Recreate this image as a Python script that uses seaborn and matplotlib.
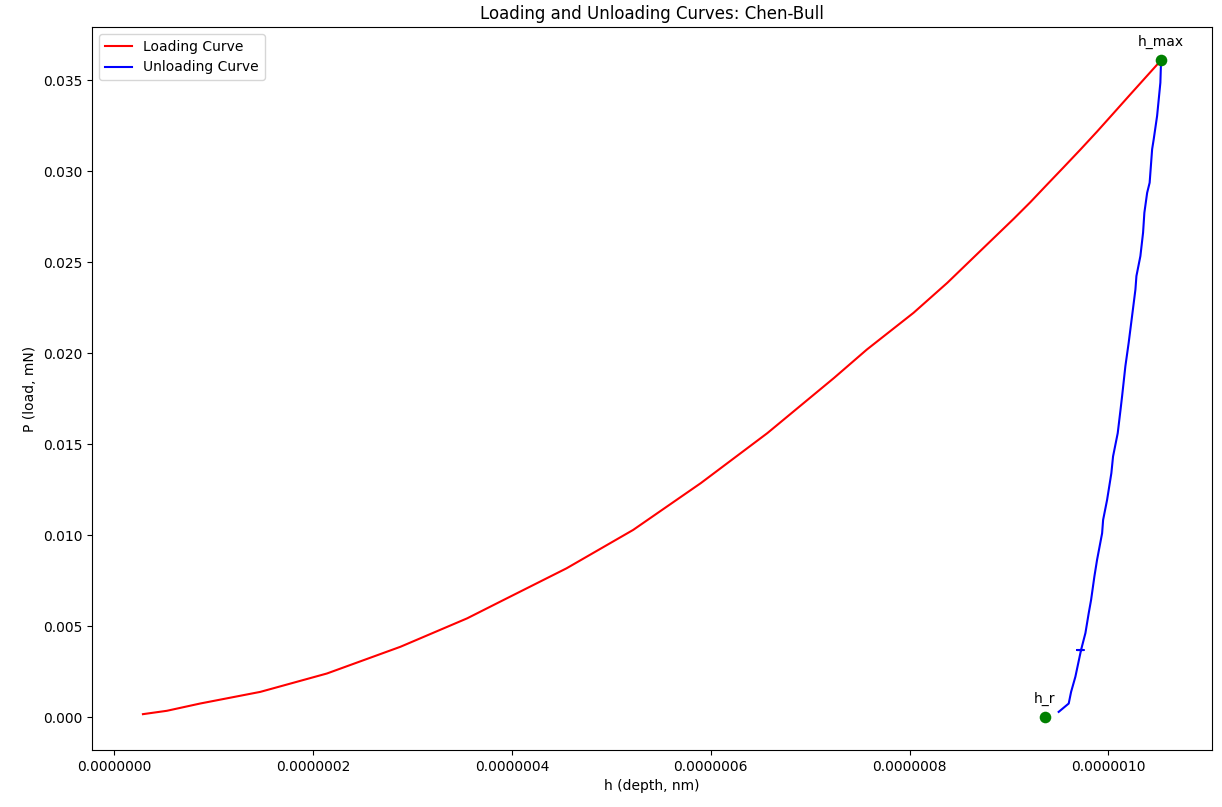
import pandas as pd
import matplotlib.pyplot as plt
import seaborn as sns
from matplotlib.ticker import FormatStrFormatter

# Loading curve (depth, load)
load_h = [0.289e-7, 0.53e-7, 0.865e-7, 1.47e-7, 2.14e-7, 2.88e-7, 3.55e-7, 3.88e-7,
          4.55e-7, 5.22e-7, 5.90e-7, 6.57e-7, 7.24e-7, 7.57e-7, 8.04e-7, 8.38e-7,
          8.71e-7, 9.05e-7, 9.215e-7, 9.38e-7, 9.55e-7, 9.72e-7, 9.886e-7, 10.05e-7,
          10.22e-7, 10.51e-7, 10.53e-7]
load_p = [0.000165, 0.00035, 0.00075, 0.00139, 0.00240, 0.00387, 0.00543, 0.00634,
          0.00818, 0.01029, 0.01286, 0.01561, 0.01864, 0.02020, 0.02222, 0.02387,
          0.02561, 0.02740, 0.02830, 0.02925, 0.03022, 0.03120, 0.03218, 0.03318,
          0.03422, 0.03598, 0.03612]

# Unloading curve
unload_h = [10.53e-7, 10.523e-7, 10.49e-7, 10.456e-7, 10.44e-7, 10.415e-7, 10.39e-7,
            10.362e-7, 10.349e-7, 10.322e-7, 10.282e-7, 10.272e-7, 10.238e-7, 10.204e-7,
            10.171e-7, 10.138e-7, 10.121e-7, 10.094e-7, 10.047e-7, 10.030e-7, 9.987e-7,
            9.947e-7, 9.937e-7, 9.886e-7, 9.859e-7, 9.826e-7, 9.802e-7, 9.769e-7,
            9.725e-7, 9.751e-7, 9.685e-7, 9.725e-7, 9.668e-7, 9.625e-7, 9.601e-7, 9.500e-7]
unload_p = [0.03612, 0.03487, 0.03304, 0.03176, 0.03121, 0.02937, 0.02882,
            0.02772, 0.02663, 0.02534, 0.02424, 0.02350, 0.02203, 0.02057,
            0.01929, 0.01764, 0.01684, 0.01561, 0.01433, 0.01341, 0.01194,
            0.01084, 0.01011, 0.00864, 0.00772, 0.00644, 0.00571, 0.00462,
            0.00369, 0.00369, 0.00369, 0.00369, 0.00222, 0.00139, 0.00075, 0.00029]

# Key points
h_max = (10.53e-7, 0.03612)
h_r = (9.36e-7, 0.0)

loading = pd.DataFrame({'h': load_h, 'P': load_p})
unloading = pd.DataFrame({'h': unload_h, 'P': unload_p})

fig, ax = plt.subplots(figsize=(12.22, 8.07), dpi=100)

sns.lineplot(data=loading, x='h', y='P', color='red', label='Loading Curve',
             sort=False, estimator=None, ax=ax)
sns.lineplot(data=unloading, x='h', y='P', color='blue', label='Unloading Curve',
             sort=False, estimator=None, ax=ax)

pts = pd.DataFrame({'h': [h_max[0], h_r[0]], 'P': [h_max[1], h_r[1]]})
sns.scatterplot(data=pts, x='h', y='P', color='green', s=70, linewidth=0,
                zorder=3, ax=ax)

ax.annotate('h_max', h_max, textcoords='offset points', xytext=(0, 10), ha='center')
ax.annotate('h_r', h_r, textcoords='offset points', xytext=(0, 10), ha='center')

ax.xaxis.set_major_formatter(FormatStrFormatter('%.7f'))
ax.set_title('Loading and Unloading Curves: Chen-Bull')
ax.set_xlabel('h (depth, nm)')
ax.set_ylabel('P (load, mN)')
ax.legend(loc='upper left')

plt.subplots_adjust(left=0.0753, right=0.9918, top=0.9665, bottom=0.0706)
plt.savefig('out.png')
